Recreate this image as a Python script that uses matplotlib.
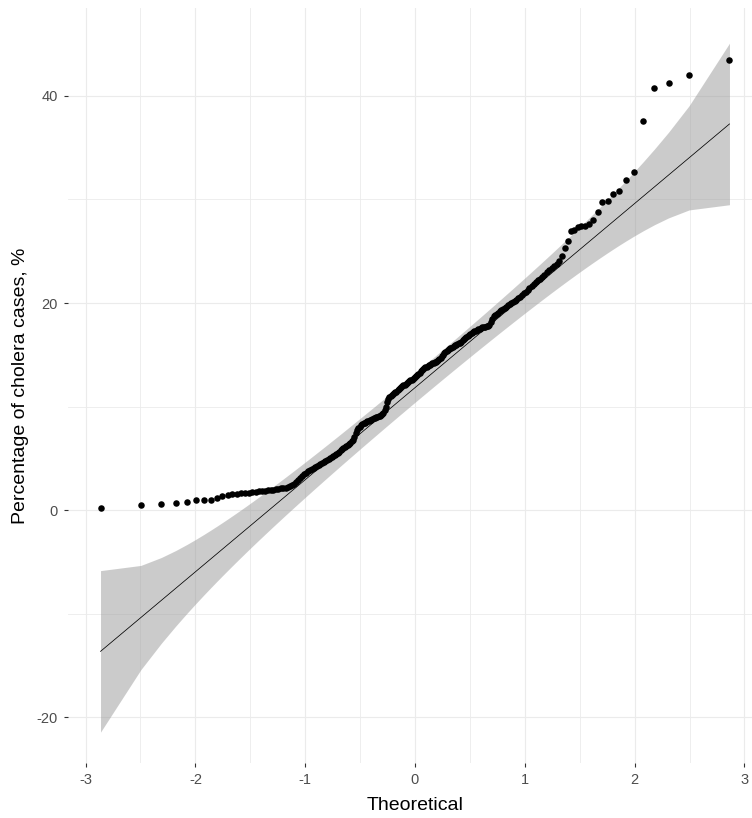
from statistics import NormalDist
import numpy as np
import matplotlib
matplotlib.use("Agg")
import matplotlib.pyplot as plt

# sorted percentage of cholera cases (sample quantiles)
cases = [
    0.15, 0.45, 0.58, 0.72, 0.82, 0.95, 0.97, 0.98, 1.18, 1.32,
    1.42, 1.50, 1.54, 1.60, 1.64, 1.67, 1.72, 1.76, 1.80, 1.84,
    1.88, 1.92, 1.95, 1.98, 2.02, 2.05, 2.09, 2.13, 2.17, 2.22,
    2.30, 2.42, 2.56, 2.75, 2.92, 3.10, 3.28, 3.45, 3.62, 3.74,
    3.85, 3.96, 4.06, 4.18, 4.28, 4.36, 4.45, 4.54, 4.62, 4.72,
    4.82, 4.92, 5.02, 5.10, 5.20, 5.30, 5.40, 5.50, 5.62, 5.76,
    5.88, 6.00, 6.10, 6.20, 6.30, 6.40, 6.50, 6.62, 6.80, 7.10,
    7.45, 7.70, 7.90, 8.05, 8.20, 8.28, 8.36, 8.43, 8.50, 8.56,
    8.62, 8.68, 8.74, 8.80, 8.86, 8.92, 8.98, 9.03, 9.08, 9.13,
    9.18, 9.25, 9.40, 9.65, 10.00, 10.45, 10.75, 10.92, 11.02, 11.12,
    11.20, 11.28, 11.36, 11.45, 11.55, 11.65, 11.76, 11.86, 11.95, 12.04,
    12.12, 12.20, 12.28, 12.36, 12.44, 12.52, 12.60, 12.68, 12.76, 12.85,
    12.95, 13.05, 13.15, 13.28, 13.40, 13.52, 13.62, 13.72, 13.80, 13.86,
    13.92, 13.98, 14.04, 14.10, 14.16, 14.22, 14.28, 14.33, 14.38, 14.45,
    14.55, 14.70, 14.85, 15.00, 15.15, 15.28, 15.40, 15.48, 15.55, 15.62,
    15.70, 15.78, 15.85, 15.92, 15.98, 16.04, 16.10, 16.18, 16.28, 16.38,
    16.48, 16.58, 16.68, 16.80, 16.92, 17.02, 17.10, 17.18, 17.25, 17.32,
    17.40, 17.46, 17.52, 17.58, 17.64, 17.68, 17.72, 17.76, 17.80, 17.84,
    18.20, 18.50, 18.70, 18.82, 18.94, 19.06, 19.18, 19.30, 19.42, 19.52,
    19.64, 19.76, 19.88, 20.00, 20.10, 20.20, 20.32, 20.45, 20.60, 20.75,
    20.92, 21.08, 21.25, 21.42, 21.60, 21.80, 22.00, 22.18, 22.36, 22.55,
    22.75, 22.95, 23.15, 23.35, 23.55, 23.80, 24.10, 24.50, 25.30, 26.00,
    27.00, 27.10, 27.30, 27.40, 27.45, 27.60, 28.00, 28.80, 29.80, 29.90,
    30.50, 30.85, 31.90, 32.70, 37.60, 40.80, 41.30, 42.00, 43.50,
]

x_ticks = [-3, -2, -1, 0, 1, 2, 3]
y_ticks = [-20, 0, 20, 40]
x_minor = [-2.5, -1.5, -0.5, 0.5, 1.5, 2.5]
y_minor = [-10, 10, 30]

plt.rcParams["font.family"] = ["Liberation Sans", "DejaVu Sans"]
plt.rcParams["axes.unicode_minus"] = False

# qq stats: ppoints, quartile line, pointwise normal band
nd = NormalDist()
sample = np.sort(np.array(cases))
n = len(sample)
p = (np.arange(n) + 0.5) / n
theo = np.array([nd.inv_cdf(q) for q in p])

q1, q3 = np.quantile(sample, [0.25, 0.75])
z1, z3 = nd.inv_cdf(0.25), nd.inv_cdf(0.75)
slope = (q3 - q1) / (z3 - z1)
intercept = q1 - slope * z1
fit = intercept + slope * theo

dens = np.array([nd.pdf(t) for t in theo])
se = slope / dens * np.sqrt(p * (1 - p) / n)
zc = nd.inv_cdf(0.975)
lower = fit - zc * se
upper = fit + zc * se

fig = plt.figure(figsize=(7.52, 8.18), dpi=100)
ax = fig.add_axes([68 / 752, 1 - 763 / 818, 684 / 752, 755 / 818])

ax.fill_between(theo, lower, upper, color="#999999", alpha=0.5, lw=0, zorder=2)
ax.plot([theo[0], theo[-1]], [fit[0], fit[-1]], color="black", lw=0.55, zorder=3)
ax.scatter(theo, sample, s=22, color="black", linewidths=0, zorder=4)

ax.set_xlim(-3.160, 3.069)
ax.set_ylim(-24.44, 48.5)
ax.set_xticks(x_ticks)
ax.set_yticks(y_ticks)
ax.set_xticks(x_minor, minor=True)
ax.set_yticks(y_minor, minor=True)
ax.set_xticklabels([str(v) for v in x_ticks])
ax.set_yticklabels([str(v) for v in y_ticks])

ax.grid(True, which="major", color="#EBEBEB", lw=0.85, zorder=0)
ax.grid(True, which="minor", color="#EBEBEB", lw=0.6, zorder=0)
ax.set_axisbelow(True)
for s in ax.spines.values():
    s.set_visible(False)

ax.tick_params(which="major", length=3.2, width=0.8, color="#333333",
               labelcolor="#4D4D4D", labelsize=10.5, pad=4)
ax.tick_params(which="minor", length=0)

ax.set_xlabel("Theoretical", fontsize=14, color="black")
ax.set_ylabel("Percentage of cholera cases, %", fontsize=14, color="black")
ax.xaxis.label.set_va("center")
ax.yaxis.label.set_va("center")
ax.xaxis.set_label_coords((415 - 68) / 684, (763 - 805) / 755)
ax.yaxis.set_label_coords((21 - 68) / 684, 0.5)

fig.savefig("out.png", dpi=100)
